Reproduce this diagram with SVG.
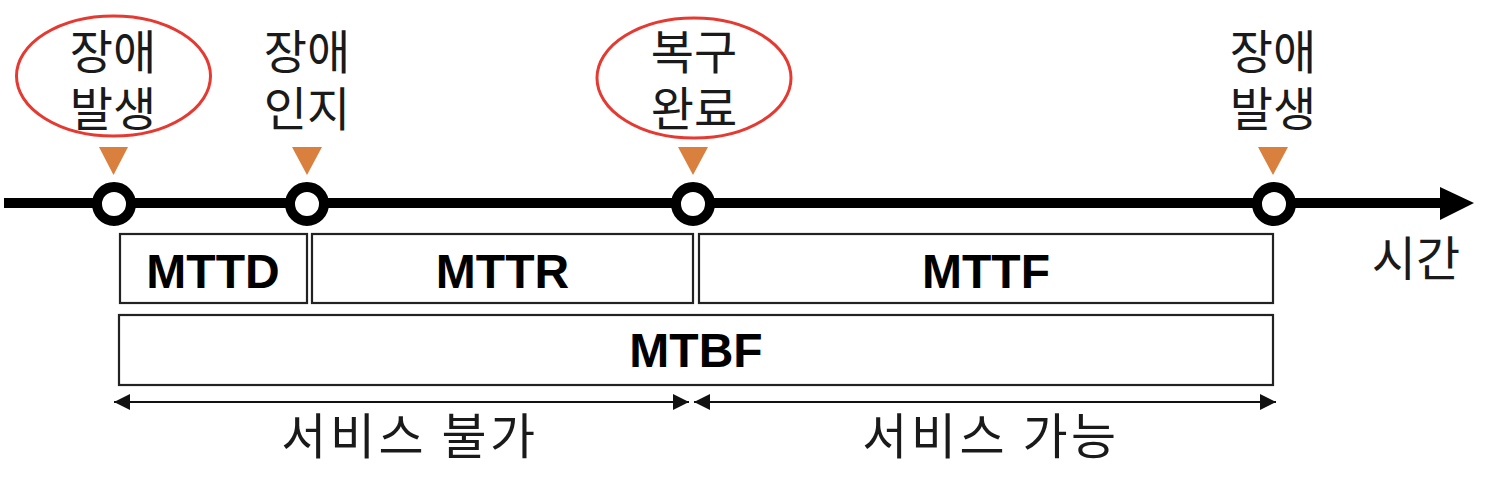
<svg xmlns="http://www.w3.org/2000/svg" width="1512" height="478" viewBox="0 0 1512 478">
<style>
.lbl{font-family:"Noto Sans CJK KR","Noto Sans",sans-serif;font-size:47px;fill:#1a1a1a;text-anchor:middle}
.wide{font-size:49px;letter-spacing:3.5px}
.box{fill:#fff;stroke:#222;stroke-width:2.2}
.bt{font-family:"Liberation Sans",Arial,sans-serif;font-weight:bold;font-size:48px;fill:#000;text-anchor:middle}
.tri{fill:#D9803E}
.ring{fill:#fff;stroke:#000;stroke-width:10}
.hl{fill:none;stroke:#E53A32;stroke-width:3}
.dim{stroke:#111;stroke-width:2.2;fill:none}
</style>
<defs>
<marker id="ah" viewBox="0 0 16 16" refX="16" refY="8" markerWidth="16" markerHeight="16" markerUnits="userSpaceOnUse" orient="auto-start-reverse">
<path d="M0,0 L16,8 L0,16 Z" fill="#111"/>
</marker>
</defs>
<rect width="1512" height="478" fill="#fff"/>
<g id="connectors">
<line x1="4" y1="203" x2="1442" y2="203" stroke="#000" stroke-width="10"/>
<path d="M1440,187 L1474,203 L1440,220 Z" fill="#000"/>
<line class="dim" x1="114" y1="402" x2="689" y2="402" marker-start="url(#ah)" marker-end="url(#ah)"/>
<line class="dim" x1="694" y1="402" x2="1276" y2="402" marker-start="url(#ah)" marker-end="url(#ah)"/>
</g>
<g id="ev1">
<ellipse class="hl" cx="113.5" cy="76" rx="97" ry="60"/>
<text class="lbl" x="113" y="69">장애<tspan x="113" y="126">발생</tspan></text>
<path class="tri" d="M99,147 L128,147 L113.5,175 Z"/>
<circle class="ring" cx="114" cy="204" r="17"/>
</g>
<g id="ev2">
<text class="lbl" x="307" y="69">장애<tspan x="307" y="126">인지</tspan></text>
<path class="tri" d="M292,147 L322,147 L307,175 Z"/>
<circle class="ring" cx="307" cy="204" r="17"/>
</g>
<g id="ev3">
<ellipse class="hl" cx="694" cy="78" rx="97" ry="60"/>
<text class="lbl" x="694" y="69">복구<tspan x="694" y="126">완료</tspan></text>
<path class="tri" d="M678,147 L708,147 L693,175 Z"/>
<circle class="ring" cx="693" cy="204" r="17"/>
</g>
<g id="ev4">
<text class="lbl" x="1273" y="69">장애<tspan x="1273" y="126">발생</tspan></text>
<path class="tri" d="M1258,147 L1288,147 L1273,175 Z"/>
<circle class="ring" cx="1274" cy="204" r="17"/>
</g>
<g id="time">
<text class="lbl" x="1416" y="276" style="font-size:48px">시간</text>
</g>
<g id="mttd">
<rect class="box" x="120" y="234" width="187" height="69"/>
<text class="bt" x="213" y="288">MTTD</text>
</g>
<g id="mttr">
<rect class="box" x="312" y="234" width="381" height="69"/>
<text class="bt" x="502.5" y="288">MTTR</text>
</g>
<g id="mttf">
<rect class="box" x="699" y="234" width="574" height="69"/>
<text class="bt" x="986" y="288">MTTF</text>
</g>
<g id="mtbf">
<rect class="box" x="119" y="315" width="1154" height="70"/>
<text class="bt" x="696" y="367">MTBF</text>
</g>
<g id="down">
<text class="lbl wide" x="410" y="454">서비스 불가</text>
</g>
<g id="up">
<text class="lbl wide" x="991" y="454">서비스 가능</text>
</g>
</svg>
